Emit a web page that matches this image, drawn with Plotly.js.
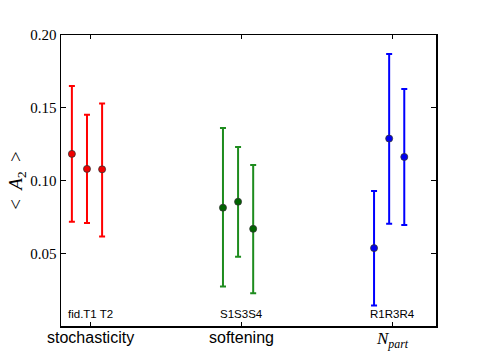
<!DOCTYPE html>
<html>
<head>
<meta charset="utf-8">
<script src="https://cdn.plot.ly/plotly-3.0.1.min.js"></script>
<style>
  html, body { margin: 0; padding: 0; background: #fff; }
  #graph { width: 485px; height: 363px; }
</style>
</head>
<body>
<div id="graph"></div>
<script>
// group positions on the x axis and their names
var groupPos = [1, 2, 3];
var groupNames = ['stochasticity', 'softening', '<i>N</i><sub><i>part</i></sub>'];
var runLabels = ['fid.T1 T2', 'S1S3S4', 'R1R3R4'];
var runOffsets = [-0.12, -0.02, 0.08]; // each run sits a bit off its group tick

// <A2> and the upper / lower ends of the error bars, per group
var stochMean = [0.1185, 0.1082, 0.1079];
var stochHigh = [0.1650, 0.1453, 0.1531];
var stochLow  = [0.0720, 0.0711, 0.0619];

var softMean = [0.0816, 0.0857, 0.0671];
var softHigh = [0.1363, 0.1233, 0.1109];
var softLow  = [0.0275, 0.0479, 0.0230];

var npartMean = [0.0539, 0.1290, 0.1164];
var npartHigh = [0.0931, 0.1869, 0.1629];
var npartLow  = [0.0145, 0.0706, 0.0697];

var yTicks = [0.05, 0.10, 0.15, 0.20];

function makeTrace(gi, mean, high, low, lineColor, dotColor) {
    let xs = runOffsets.map(o => groupPos[gi] + o);
    return {
        x: xs,
        y: mean,
        type: 'scatter',
        mode: 'markers',
        marker: {color: dotColor, size: 7, line: {color: '#333', width: 0.8}},
        error_y: {
            type: 'data',
            symmetric: false,
            array: high.map((h, i) => h - mean[i]),
            arrayminus: low.map((l, i) => mean[i] - l),
            color: lineColor,
            thickness: 2,
            width: 3
        },
        showlegend: false,
        hoverinfo: 'skip'
    };
}

var data = [
    makeTrace(0, stochMean, stochHigh, stochLow, '#ff0000', '#f00000'),
    makeTrace(1, softMean, softHigh, softLow, '#1e8c1e', '#006400'),
    makeTrace(2, npartMean, npartHigh, npartLow, '#0000ff', '#0000f0')
];

var annotations = [];
groupPos.forEach(function(p, i) {
    // run labels inside the plot, just above the bottom spine
    annotations.push({
        x: p, xref: 'x', y: 0.0, yref: 'paper',
        yanchor: 'bottom', yshift: 4,
        text: runLabels[i], showarrow: false,
        font: {family: 'Liberation Sans, Arial, sans-serif', size: 11.5, color: '#000'}
    });
    // group names under the axis
    let isMath = i === 2;
    annotations.push({
        x: p, xref: 'x', y: 0.0, yref: 'paper',
        yanchor: 'top', yshift: -1,
        text: groupNames[i], showarrow: false,
        font: isMath
            ? {family: 'Liberation Serif, Times New Roman, serif', size: 17, color: '#000'}
            : {family: 'Liberation Sans, Arial, sans-serif', size: 16, color: '#000'}
    });
});

var layout = {
    width: 485, height: 363,
    margin: {l: 61, r: 49, t: 35, b: 37},
    paper_bgcolor: '#fff',
    plot_bgcolor: '#fff',
    xaxis: {
        range: [0.808, 3.29],
        tickvals: groupPos,
        showticklabels: false,
        ticks: 'inside', ticklen: 4, tickcolor: '#000',
        showgrid: false, zeroline: false,
        showline: true, linecolor: '#000', linewidth: 1.5, mirror: 'ticks'
    },
    yaxis: {
        range: [0.0005, 0.2],
        tickvals: yTicks,
        ticktext: yTicks.map(v => v.toFixed(2)),
        ticks: 'inside', ticklen: 5, tickcolor: '#000',
        showgrid: false, zeroline: false,
        showline: true, linecolor: '#000', linewidth: 1.5, mirror: 'ticks',
        tickfont: {family: 'Liberation Serif, Times New Roman, serif', size: 15, color: '#000'},
        title: {
            text: '&lt;  <i>A</i><sub>2</sub>  &gt;',
            font: {family: 'Liberation Serif, Times New Roman, serif', size: 19, color: '#000'},
            standoff: 2
        }
    },
    annotations: annotations
};

Plotly.newPlot('graph', data, layout, {staticPlot: true});
</script>
</body>
</html>
